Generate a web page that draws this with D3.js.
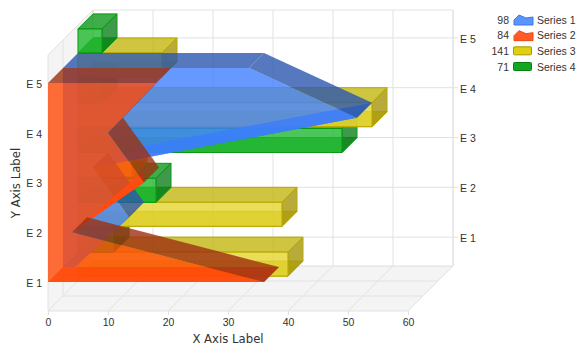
<!DOCTYPE html>
<html>
<head>
<meta charset="utf-8">
<script src="https://cdn.jsdelivr.net/npm/d3@7"></script>
<style>
  body { margin: 0; background: #fff; }
  text { font-family: "Liberation Sans", Arial, sans-serif; fill: #333; }
</style>
</head>
<body>
<div id="chart"></div>
<script>
// values
const categories = ["E 1", "E 2", "E 3", "E 4", "E 5"]
const series1 = [2, 11, 5, 49, 31]
const series2 = [36, 4, 16, 10, 18]
const series3 = [35, 34, 9, 49, 14]
const series4 = [6, 13, 44, 4, 4]
const legendNames = ["Series 1", "Series 2", "Series 3", "Series 4"]
const legendTotals = [98, 84, 141, 71]
const xTicks = [0, 10, 20, 30, 40, 50, 60]

const width = 584, height = 352

const xScale = d3.scaleLinear().domain([0, 60]).range([48, 408])
const yScale = d3.scaleLinear().domain([0.42, 5.56]).range([311, 55])
// depth layers, 0 is the front of the box and 3 the back wall
const zScale = d3.scaleLinear().domain([0, 3]).range([0, 45])

const svg = d3.select('#chart').append('svg')
    .attr('width', width).attr('height', height)
    .attr('viewBox', `0 0 ${width} ${height}`)
    .style('display', 'block')

// project value, category position and depth on the screen
function pt (v, c, z) {
    const dz = zScale(z)
    return [xScale(v) + dz, yScale(c) - dz]
}
const line = d3.line()
function face (g, pts, fill, stroke, opacity) {
    g.append('path')
        .attr('d', line(pts) + 'Z')
        .attr('fill', fill)
        .attr('fill-opacity', opacity)
        .attr('stroke', stroke || 'none')
        .attr('stroke-width', 1)
}

const yMin = yScale.domain()[0], yMax = yScale.domain()[1]

// box: floor, left wall, back wall
const box = svg.append('g')
const gridColor = '#e2e2e2'
face(box, [pt(0, yMin, 0), pt(60, yMin, 0), pt(60, yMin, 3), pt(0, yMin, 3)], '#f4f4f4', gridColor, 1)
face(box, [pt(0, yMin, 0), pt(0, yMax, 0), pt(0, yMax, 3), pt(0, yMin, 3)], '#f4f4f4', gridColor, 1)
face(box, [pt(0, yMin, 3), pt(0, yMax, 3), pt(60, yMax, 3), pt(60, yMin, 3)], '#fff', gridColor, 1)

function gridLine (a, b) {
    box.append('path').attr('d', line([a, b])).attr('stroke', gridColor).attr('fill', 'none')
}
xTicks.forEach(t => {
    gridLine(pt(t, yMin, 0), pt(t, yMin, 3))
    gridLine(pt(t, yMin, 3), pt(t, yMax, 3))
})
d3.range(1, 3).forEach(z => {
    gridLine(pt(0, yMin, z), pt(60, yMin, z))
    gridLine(pt(0, yMin, z), pt(0, yMax, z))
})
categories.forEach((c, i) => {
    const p = pt(60, i + 1, 3)
    gridLine(pt(0, i + 1, 3), [p[0] + 5, p[1]])
})

// axes
const xAxis = svg.append('g')
    .attr('transform', `translate(0,${yScale(yMin)})`)
    .call(d3.axisBottom(xScale).tickValues(xTicks).tickSize(4).tickPadding(4))
const catFormat = d => categories[d - 1]
const leftAxis = svg.append('g')
    .attr('transform', `translate(${xScale(0)},1)`)
    .call(d3.axisLeft(yScale).tickValues([1, 2, 3, 4, 5]).tickFormat(catFormat).tickSize(0).tickPadding(6))
const rightAxis = svg.append('g')
    .attr('transform', `translate(${xScale(60) + zScale(3)},${1 - zScale(3)})`)
    .call(d3.axisRight(yScale).tickValues([1, 2, 3, 4, 5]).tickFormat(catFormat).tickSize(0).tickPadding(7))
;[xAxis, leftAxis, rightAxis].forEach(a => {
    a.select('.domain').remove()
    a.selectAll('line').attr('stroke', gridColor)
    a.selectAll('text').style('font-size', '10.5px').attr('fill', '#333')
})

// bars sit in the back layer, series 3 under the category line and series 4 over it
const bars = svg.append('g')
function drawBar (v, c, above, col) {
    const h = 0.482
    const lo = above ? c : c - h
    const hi = above ? c + h : c
    const z0 = 2, z1 = 3
    face(bars, [pt(0, lo, z0), pt(v, lo, z0), pt(v, lo, z1), pt(0, lo, z1)], col.top, col.stroke, col.alpha)
    face(bars, [pt(0, hi, z0), pt(v, hi, z0), pt(v, hi, z1), pt(0, hi, z1)], col.top, col.stroke, col.alpha)
    face(bars, [pt(v, lo, z0), pt(v, hi, z0), pt(v, hi, z1), pt(v, lo, z1)], col.side, col.stroke, col.alpha)
    face(bars, [pt(0, lo, z0), pt(0, hi, z0), pt(v, hi, z0), pt(v, lo, z0)], col.front, col.stroke, col.alpha)
}
const yellow = { front: '#e4d430', top: '#c3b610', side: '#a6960b', stroke: '#b8a800', alpha: 0.8 }
const green = { front: '#20b830', top: '#0f9a1d', side: '#0f801d', stroke: '#0a9a14', alpha: 0.8 }
categories.forEach((c, i) => {
    drawBar(series3[i], i + 1, false, yellow)
    drawBar(series4[i], i + 1, true, green)
})

// areas lie sideways: baseline on x=0, one ribbon between each pair of categories
function drawArea (vals, z0, col) {
    const g = svg.append('g')
    const z1 = z0 + 1
    const n = vals.length
    const outline = [pt(0, 1, z0)].concat(vals.map((v, i) => pt(v, i + 1, z0)), [pt(0, n, z0)])
    // ribbons that face away are seen through the front, so they go first
    const ribbons = d3.range(n - 1).map(i => {
        const a = pt(vals[i], i + 1, z0), b = pt(vals[i + 1], i + 2, z0)
        // b is the upper point, the depth goes up and right on screen
        return { i, seen: (a[1] - b[1]) - (b[0] - a[0]) > 0 }
    })
    face(g, [pt(0, 1, z0), pt(vals[0], 1, z0), pt(vals[0], 1, z1), pt(0, 1, z1)], col.light, null, col.alpha)
    const ribbon = (r, fill) => face(g, [pt(vals[r.i], r.i + 1, z0), pt(vals[r.i + 1], r.i + 2, z0),
        pt(vals[r.i + 1], r.i + 2, z1), pt(vals[r.i], r.i + 1, z1)], fill, null, col.alpha)
    // the orange one only shows as a wedge growing from the lower point
    const wedge = r => face(g, [pt(vals[r.i], r.i + 1, z0), pt(vals[r.i + 1], r.i + 2, z0),
        pt(vals[r.i + 1] - 2, r.i + 2, z0 + 0.8)], col.light, null, 1)
    ribbons.filter(r => !r.seen).forEach(r => { if (!col.wedge) ribbon(r, col.light) })
    face(g, outline, col.front, null, col.alpha)
    if (col.wedge) ribbons.filter(r => !r.seen).forEach(wedge)
    ribbons.filter(r => r.seen).forEach(r => ribbon(r, col.dark))
    face(g, [pt(0, n, z0), pt(vals[n - 1], n, z0), pt(vals[n - 1], n, z1), pt(0, n, z1)], col.dark, null, col.alpha)
}
drawArea(series1, 1, { front: '#4080ff', light: '#2a70f0', dark: '#2a56ae', alpha: 0.8 })
drawArea(series2, 0, { front: '#ff4806', light: '#ff4a10', dark: '#9e3010', alpha: 0.8, wedge: true })

// axis titles
svg.append('text').attr('x', 228).attr('y', 343).attr('text-anchor', 'middle')
    .style('font-family', '"DejaVu Sans"').style('font-size', '11.7px').text('X Axis Label')
svg.append('text').attr('transform', 'translate(20,183) rotate(-90)').attr('text-anchor', 'middle')
    .style('font-family', '"DejaVu Sans"').style('font-size', '11.7px').text('Y Axis Label')

// legend
const legendY = d3.scalePoint().domain(legendNames).range([20, 67])
const swatchFill = ['#5a94ff', '#ff5a28', '#e0d010', '#10a820']
const swatchStroke = ['#3c78e8', '#f04810', '#a89800', '#088010']
legendNames.forEach((name, i) => {
    const y = legendY(name)
    const g = svg.append('g').attr('transform', `translate(0,${y})`)
    g.append('text').attr('x', 509).attr('y', 3.5).attr('text-anchor', 'end').style('font-size', '10.5px').text(legendTotals[i])
    g.append('text').attr('x', 537).attr('y', 3.5).style('font-size', '10.5px').text(name)
    if (i < 2) {
        g.append('path').attr('d', 'M514,5 L514,0 L519,-5 L526,-2 L533,-3 L533,5 Z')
            .attr('fill', swatchFill[i]).attr('stroke', swatchStroke[i])
    } else {
        g.append('rect').attr('x', 513.5).attr('y', -4.5).attr('width', 18).attr('height', 8).attr('rx', 1)
            .attr('fill', swatchFill[i]).attr('stroke', swatchStroke[i])
    }
})
</script>
</body>
</html>
